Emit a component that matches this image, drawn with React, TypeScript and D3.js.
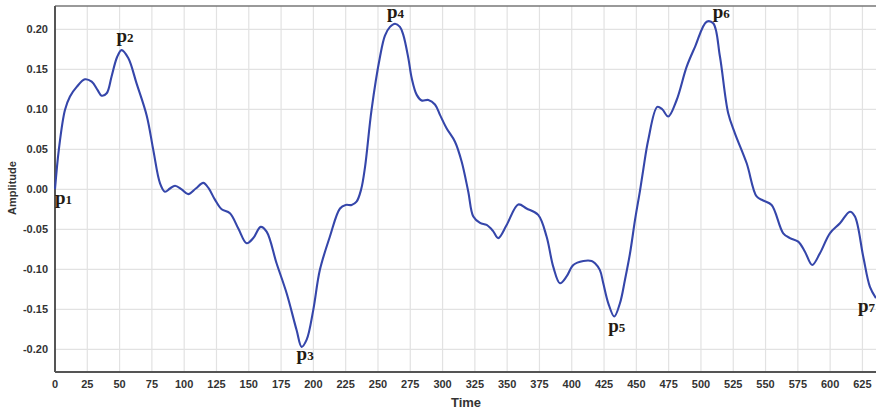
import React from "react";
import * as d3 from "d3";

const timeValues = [0, 3, 7.7, 11.6, 16.8, 23.2, 28.4, 33, 36.1, 40, 43.8, 48, 51.5, 56.7, 63.2, 71, 76.1, 81.3, 85.1, 89, 92.9, 98, 103.2, 109, 114.8, 119, 123.8, 129, 135.4, 141.9, 148.4, 153.5, 159.2, 163.8, 171.5, 179.3, 187, 190.9, 194.8, 199.9, 205, 212.8, 220.6, 225, 229.6, 233.4, 237, 240, 245, 251.5, 255.4, 259.3, 263.2, 267, 269.6, 273.5, 276.1, 280, 283.8, 289, 294.1, 298, 303.2, 309.6, 314.8, 319.9, 323.8, 329, 334.1, 339, 343.1, 349.6, 358.6, 365, 374, 380.5, 385.7, 390.9, 396, 401.2, 409, 415.4, 418, 421.8, 424.4, 428.3, 432.9, 437.3, 441.2, 445.1, 449, 452.9, 455.3, 459.2, 466.2, 470, 474.7, 481.2, 488.9, 495.4, 504.4, 509.5, 514.7, 521.1, 526.3, 535.4, 543.1, 548.2, 554.7, 563.7, 568.9, 575.3, 580.5, 586.1, 592.1, 599.8, 607.6, 615.3, 619.2, 625.6, 630.8, 635.5];
const amplitudeValues = [0, 0.05, 0.099, 0.116, 0.128, 0.1375, 0.1345, 0.124, 0.117, 0.12, 0.141, 0.165, 0.174, 0.164, 0.132, 0.092, 0.049, 0.0075, -0.003, 0.001, 0.0045, 0.0, -0.006, 0.001, 0.008, 0.001, -0.013, -0.025, -0.03, -0.049, -0.0675, -0.061, -0.047, -0.053, -0.0925, -0.13, -0.176, -0.197, -0.188, -0.151, -0.101, -0.059, -0.024, -0.0196, -0.0196, -0.0155, 0.0, 0.028, 0.099, 0.165, 0.192, 0.203, 0.207, 0.203, 0.193, 0.164, 0.139, 0.118, 0.111, 0.1116, 0.106, 0.093, 0.076, 0.0595, 0.0345, -0.003, -0.034, -0.042, -0.0446, -0.052, -0.061, -0.0446, -0.019, -0.024, -0.032, -0.059, -0.097, -0.1175, -0.109, -0.0946, -0.0896, -0.0896, -0.0925, -0.101, -0.1175, -0.1425, -0.159, -0.1425, -0.113, -0.08, -0.038, -0.001, 0.024, 0.0616, 0.103, 0.1, 0.091, 0.1116, 0.153, 0.178, 0.2095, 0.2075, 0.166, 0.095, 0.07, 0.0325, -0.009, -0.014, -0.0196, -0.055, -0.061, -0.0655, -0.078, -0.0946, -0.08, -0.055, -0.0425, -0.028, -0.034, -0.084, -0.122, -0.136];

const xTicks = [0, 25, 50, 75, 100, 125, 150, 175, 200, 225, 250, 275, 300, 325, 350, 375, 400, 425, 450, 475, 500, 525, 550, 575, 600, 625];
const yTicks = [-0.2, -0.15, -0.1, -0.05, 0, 0.05, 0.1, 0.15, 0.2];

const pointNames = ["p1", "p2", "p3", "p4", "p5", "p6", "p7"];
const pointTimes = [0, 51.5, 190.9, 263.2, 432.9, 504.4, 635.5];
const pointAmps = [0, 0.174, -0.197, 0.207, -0.159, 0.2095, -0.136];

const W = 876;
const H = 413;
const left = 55;
const right = 876;
const top = 6;
const bottom = 372;

export default function App() {
  const x = d3.scaleLinear().domain([0, 635.5]).range([left, right]);
  const y = d3.scaleLinear().domain([-0.2284, 0.2291]).range([bottom, top]);
  const data = timeValues.map((t, i) => [t, amplitudeValues[i]] as [number, number]);
  const line = d3
    .line<[number, number]>()
    .x((d) => x(d[0]))
    .y((d) => y(d[1]))
    .curve(d3.curveCatmullRom.alpha(0.5));

  const labelOffsets: [number, number][] = [
    [0, 15],
    [-5, -8],
    [-5, 13],
    [-8, -5.5],
    [-6, 16],
    [6, -4],
    [-18, 14],
  ];

  return (
    <svg
      width={W}
      height={H}
      style={{ position: "absolute", left: 0, top: 0, background: "#fff" }}
    >
      <rect x={0} y={0} width={W} height={H} fill="#fff" />
      <g>
        {xTicks.map((t) => (
          <line key={"gx" + t} x1={x(t)} x2={x(t)} y1={top} y2={bottom} stroke="#e2e2e2" strokeWidth={1.2} />
        ))}
        {yTicks.map((v) => (
          <line key={"gy" + v} x1={left} x2={right} y1={y(v)} y2={y(v)} stroke="#e2e2e2" strokeWidth={1.2} />
        ))}
      </g>
      <line x1={left} x2={right} y1={top} y2={top} stroke="#777" strokeWidth={1.5} />
      <line x1={left} x2={left} y1={top} y2={bottom} stroke="#555" strokeWidth={2} />
      <line x1={left} x2={right} y1={bottom} y2={bottom} stroke="#555" strokeWidth={2} />
      <path d={line(data) || ""} fill="none" stroke="#3546aa" strokeWidth={2.1} strokeLinejoin="round" />
      <g fontFamily="Liberation Sans, Arial, sans-serif" fontWeight="bold" fontSize={11} fill="#333">
        {xTicks.map((t) => (
          <text key={"tx" + t} x={x(t)} y={388} textAnchor="middle">
            {t}
          </text>
        ))}
        {yTicks.map((v) => (
          <text key={"ty" + v} x={48} y={y(v) + 4} textAnchor="end">
            {v.toFixed(2)}
          </text>
        ))}
        <text x={466} y={407} textAnchor="middle" fontSize={13}>
          Time
        </text>
        <text transform={`translate(16,188) rotate(-90)`} textAnchor="middle" fontSize={11}>
          Amplitude
        </text>
      </g>
      <g fontFamily="Liberation Serif, Times New Roman, serif" fontWeight="bold" fill="#231a12">
        {pointNames.map((n, i) => (
          <text
            key={n}
            x={x(pointTimes[i]) + labelOffsets[i][0]}
            y={y(pointAmps[i]) + labelOffsets[i][1]}
            fontSize={19}
          >
            {n[0]}
            <tspan fontSize={13}>{n.slice(1)}</tspan>
          </text>
        ))}
      </g>
    </svg>
  );
}
